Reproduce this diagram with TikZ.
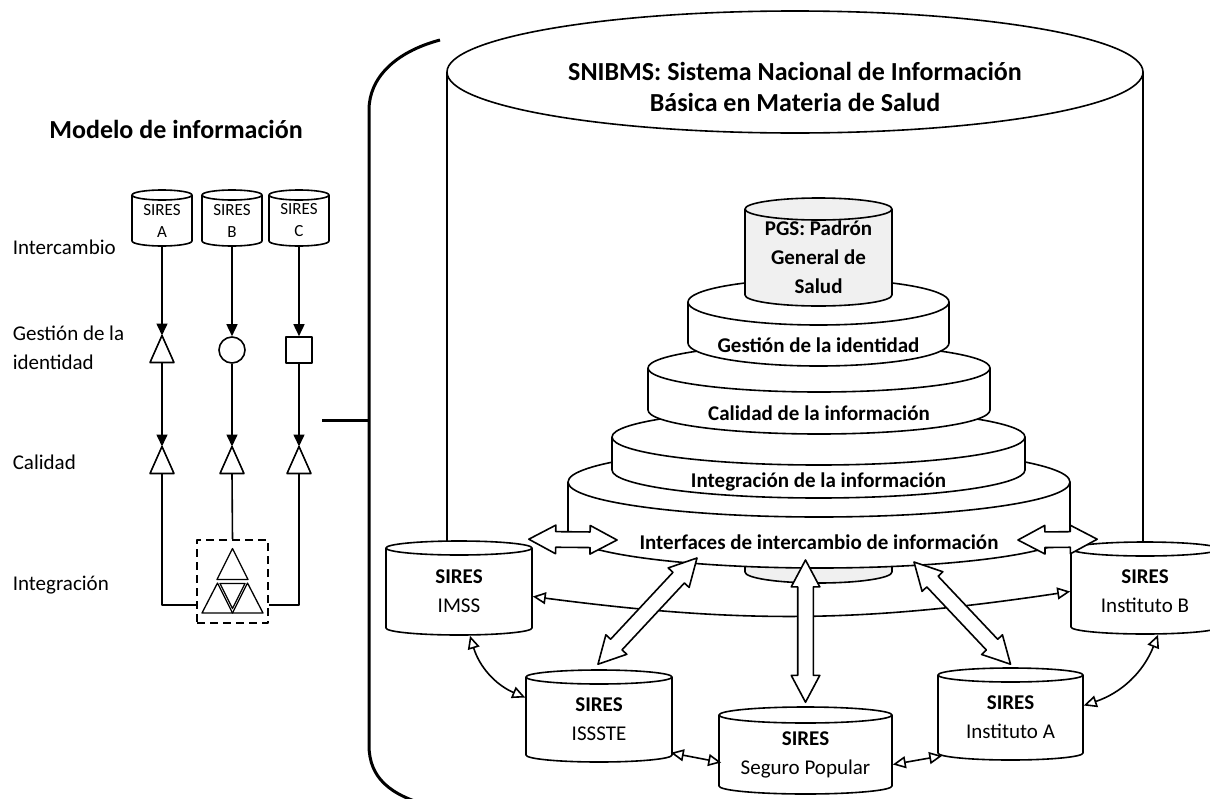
\documentclass[tikz,border=0pt]{standalone}
\usepackage{fontspec}
\setmainfont{Carlito}
\usetikzlibrary{shapes,shapes.arrows,positioning,calc,arrows.meta}

\definecolor{pgsgray}{RGB}{240,240,240}
\newcommand{\fbase}{\fontsize{21}{29}\selectfont}
\newcommand{\fsmall}{\fontsize{17}{22}\selectfont}
\newcommand{\ftitle}{\fontsize{26}{31}\selectfont\bfseries}

% cylinder: name, x, y of top ellipse, x radius, y radius, side, fill, font, text
\newcommand{\sirescyl}[9]{
	\filldraw[fill=#7] (#2-#4,#3) -- (#2-#4,#3+#6) arc[start angle=180,end angle=0,x radius=#4,y radius=#5] -- (#2+#4,#3) arc[start angle=0,end angle=-180,x radius=#4,y radius=#5] -- cycle;
	\draw (#2-#4,#3) arc[start angle=180,end angle=0,x radius=#4,y radius=#5];
	\node[cyl_text, font=#8, minimum width=2*#4, minimum height=#6+#5] (#1) at (#2,#3+#6/2+#5/2) {#9};
}
% one ring of the pyramid, text in the band
\newcommand{\pgslayer}[7]{
	\filldraw[fill=white] (#2-#4,#3) -- (#2-#4,#3+#6) arc[start angle=180,end angle=0,x radius=#4,y radius=#5] -- (#2+#4,#3) arc[start angle=0,end angle=-180,x radius=#4,y radius=#5] -- cycle;
	\draw (#2-#4,#3) arc[start angle=180,end angle=0,x radius=#4,y radius=#5];
	\node[layer_text] (#1) at (#2,#3+#5+#6/2) {#7};
}
\newcommand{\tri}[3]{
	\node[tri_box] (#1) at (#2,#3) {};
	\draw[fill=white] (#1.north) -- (#1.south east) -- (#1.south west) -- cycle;
}
\newcommand{\hollowarr}[2]{
	\path let \p1=(#1), \p2=(#2), \n1={atan2(\y2-\y1,\x2-\x1)}, \n2={veclen(\x2-\x1,\y2-\y1)} in
		node[hollow_arr, minimum height=\n2, rotate=\n1] (arr_#1) at ($(#1)!0.5!(#2)$) {};
}

\begin{document}
\begin{tikzpicture}[x=1pt,y=-1pt,line width=1.6pt,line join=round]
	\tikzstyle{cyl_text}=[align=center,inner sep=0pt];
	\tikzstyle{layer_text}=[font=\fbase\bfseries,inner sep=0pt];
	\tikzstyle{lab_left}=[anchor=west,align=left,font=\fbase,inner sep=0pt];
	\tikzstyle{tri_box}=[minimum width=24,minimum height=27,inner sep=0pt,outer sep=0pt];
	\tikzstyle{flow}=[-{Triangle[length=12pt,width=11pt]}];
	\tikzstyle{ring_link}=[{Triangle[open,length=13pt,width=12pt]}-{Triangle[open,length=13pt,width=12pt]}];
	\tikzstyle{hollow_arr}=[double arrow,draw,fill=white,inner xsep=0pt,inner ysep=7pt,minimum width=27pt,double arrow head extend=6.5pt,double arrow tip angle=56];
	\tikzstyle{bracket}=[line width=3pt];

	\useasboundingbox (0,0) rectangle (1210,798);

	% left: information model
	\node[font=\ftitle] (modelo) at (176,129) {Modelo de información};

	\node[lab_left] (lab_inter) at (12,247) {Intercambio};
	\node[lab_left] (lab_gest) at (12,347.5) {Gestión de la\\identidad};
	\node[lab_left] (lab_cal) at (12,462) {Calidad};
	\node[lab_left] (lab_integ) at (12,585) {Integración};

	\sirescyl{sires_a}{162}{195}{30}{5}{46}{white}{\fsmall}{SIRES\\A}
	\sirescyl{sires_b}{232}{195}{30}{5}{46}{white}{\fsmall}{SIRES\\B}
	\sirescyl{sires_c}{299}{195}{30}{5}{46}{white}{\fsmall}{SIRES\\C}

	\tri{id_a}{162}{349}
	\node[draw, circle, minimum size=26, inner sep=0pt] (id_b) at (232,350) {};
	\node[draw, minimum size=26, inner sep=0pt] (id_c) at (299,350) {};
	\tri{cal_a}{162}{460}
	\tri{cal_b}{232}{460}
	\tri{cal_c}{299}{460}

	\node[draw, dash pattern=on 8pt off 5pt, minimum width=71, minimum height=83] (integ) at (232.5,581.5) {};
	\begin{scope}[shift={(integ.center)},line width=1.3pt]
		\draw (0,-33) -- (15.5,-2) -- (-15.5,-2) -- cycle;
		\draw (-15,1.5) -- (0,31.5) -- (-30.5,31.5) -- cycle;
		\draw (15,1.5) -- (30.5,31.5) -- (0,31.5) -- cycle;
		\draw (-12.5,2) -- (12.5,2) -- (0,27) -- cycle;
	\end{scope}

	\draw[flow] (sires_a.south) -- (id_a.north);
	\draw[flow] (id_a.south) -- (cal_a.north);
	\draw[flow] (sires_b.south) -- (id_b.north);
	\draw[flow] (id_b.south) -- (cal_b.north);
	\draw[flow] (sires_c.south) -- (id_c.north);
	\draw[flow] (id_c.south) -- (cal_c.north);
	\draw (cal_a.south) |- ($(integ.south west)+(0,-19)$);
	\draw (cal_b.south) -- (integ.north);
	\draw (cal_c.south) |- ($(integ.south east)+(0,-19)$);

	% bracket
	\draw[bracket] (440,40) .. controls (395,52) and (369,78) .. (369,110) -- (369,745) .. controls (369,778) and (390,795) .. (430,806);
	\coordinate (brk) at (369,420);
	\coordinate (mdl) at (322,420);
	\draw[bracket] (mdl) -- (brk);

	% SNIBMS
	\draw (795,72) ellipse [x radius=348, y radius=61];
	\draw (447,72) -- (447,545);
	\draw (1143,72) -- (1143,545);
	\node[font=\ftitle, align=center] (snibms) at (795,87) {SNIBMS: Sistema Nacional de Información\\Básica en Materia de Salud};

	\filldraw[fill=pgsgray] (745,520) -- (745,572) arc[start angle=180,end angle=0,x radius=73.5,y radius=11] -- (892,520) -- cycle;
	\pgslayer{lay_ifc}{819}{482}{251}{35}{51}{Interfaces de intercambio de información}
	\pgslayer{lay_integ}{818.5}{437}{206.5}{28}{33}{Integración de la información}
	\pgslayer{lay_cal}{819}{368}{171}{24}{42}{Calidad de la información}
	\pgslayer{lay_gest}{818.5}{302}{130.5}{23}{41}{Gestión de la identidad}
	\sirescyl{pgs}{818.5}{209}{73.5}{11}{86}{pgsgray}{\fbase\bfseries}{PGS: Padrón\\General de\\Salud}

	\sirescyl{imss}{459}{548}{73}{7}{80}{white}{\fbase}{\textbf{SIRES}\\IMSS}
	\sirescyl{instb}{1145}{549}{74}{7}{78}{white}{\fbase}{\textbf{SIRES}\\Instituto B}
	\sirescyl{issste}{599}{677}{73}{7}{78}{white}{\fbase}{\textbf{SIRES}\\ISSSTE}
	\sirescyl{segpop}{805.5}{715}{86.5}{8}{71}{white}{\fbase}{\textbf{SIRES}\\Seguro Popular}
	\sirescyl{insta}{1010.5}{675}{72.5}{7}{78}{white}{\fbase}{\textbf{SIRES}\\Instituto A}

	\draw[ring_link] ($(imss.east)+(0,5)$) to[bend right=8] (instb.west);
	\draw[ring_link] ($(imss.south)+(11,0)$) to[bend right=25] ($(issste.west)+(0,-22)$);
	\draw[ring_link] ($(insta.east)+(0,-12)$) to[bend right=25] ($(instb.south)+(13,0)$);
	\draw[ring_link] ($(issste.south east)+(-2,-10)$) -- ($(segpop.west)+(3,8)$);
	\draw[ring_link] ($(segpop.east)+(0,10)$) -- ($(insta.south west)+(5,-5)$);

	\coordinate (ring_w) at (617,540);
	\coordinate (ring_e) at (1018,540);
	\coordinate (ring_sw) at (697,558);
	\coordinate (ring_s) at (805.5,560);
	\coordinate (ring_se) at (914,562);
	\coordinate (imss_top) at ($(imss.north east)+(-4,-8)$);
	\coordinate (instb_top) at ($(instb.north west)+(27,-9)$);
	\coordinate (issste_top) at ($(issste.north)+(-1,-12)$);
	\coordinate (segpop_top) at ($(segpop.north)+(0,-12)$);
	\coordinate (insta_top) at ($(insta.north)+(0,-10)$);
	\hollowarr{imss_top}{ring_w}
	\hollowarr{ring_e}{instb_top}
	\hollowarr{issste_top}{ring_sw}
	\hollowarr{segpop_top}{ring_s}
	\hollowarr{insta_top}{ring_se}
\end{tikzpicture}
\end{document}
